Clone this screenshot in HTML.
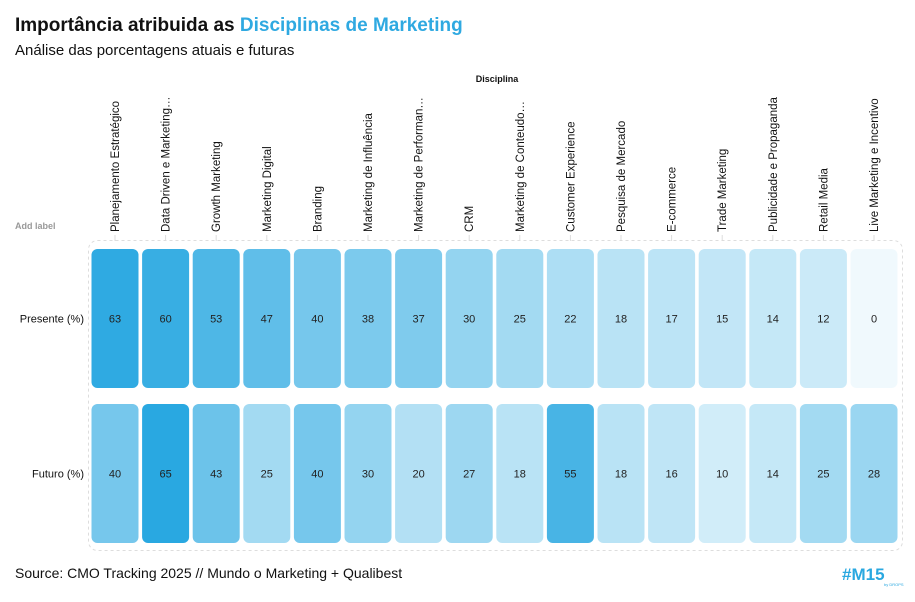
<!DOCTYPE html>
<html><head><meta charset="utf-8"><style>
body{margin:0;background:#fff;font-family:"Liberation Sans",sans-serif;}
svg text{font-family:"Liberation Sans",sans-serif;}
</style></head><body>
<svg width="915" height="597" viewBox="0 0 915 597" xmlns="http://www.w3.org/2000/svg">
<text x="15" y="31" font-size="19" font-weight="bold" fill="#111">Importância atribuida as <tspan fill="#2fa9e1">Disciplinas de Marketing</tspan></text>
<text x="15" y="55" font-size="15" fill="#111">Análise das porcentagens atuais e futuras</text>
<text x="497" y="82" font-size="9" font-weight="bold" text-anchor="middle" fill="#111">Disciplina</text>
<text x="15" y="229" font-size="9" font-weight="bold" fill="#999">Add label</text>
<rect x="88.5" y="240.5" width="814" height="310" rx="9" fill="none" stroke="#ddd" stroke-dasharray="3,3"/>
<g id="cols"></g>
<g id="cells"></g>
<text x="15" y="578" font-size="14" fill="#111">Source: CMO Tracking 2025 // Mundo o Marketing + Qualibest</text>
<text x="842" y="580" font-size="17" font-weight="900" fill="#2aa8e0">#M15</text>
<text x="884" y="586" font-size="4" fill="#2aa8e0">by DROPS</text>
</svg>
<script>
const categories=["Planejamento Estratégico","Data Driven e Marketing…","Growth Marketing","Marketing Digital","Branding","Marketing de Influência","Marketing de Performan…","CRM","Marketing de Conteudo…","Customer Experience","Pesquisa de Mercado","E-commerce","Trade Marketing","Publicidade e Propaganda","Retail Media","Live Marketing e Incentivo"];
const rowLabels=["Presente (%)","Futuro (%)"];
const presente=[63,60,53,47,40,38,37,30,25,22,18,17,15,14,12,0];
const futuro=[40,65,43,25,40,30,20,27,18,55,18,16,10,14,25,28];
const series=[presente,futuro];
const NS="http://www.w3.org/2000/svg";
const x0=91.5,pitch=50.6,cw=47;
const rowY=[249,404],rowH=139;
function xPos(i){return x0+i*pitch;}
function color(v){const t=Math.min(1,v/65);const a=[240,249,253],b=[41,168,225];
return "rgb("+a.map((c,k)=>Math.round(c+(b[k]-c)*t)).join(",")+")";}
const cols=document.getElementById('cols'),cells=document.getElementById('cells');
categories.forEach((c,i)=>{
 const cx=xPos(i)+cw/2;
 const t=document.createElementNS(NS,'text');
 
 
 t.setAttribute('transform','translate('+(cx+4)+',232) rotate(-90)');
 t.setAttribute('font-size','11.5');t.setAttribute('fill','#111');
 t.textContent=c;cols.appendChild(t);
 const l=document.createElementNS(NS,'line');
 
 
 l.setAttribute('x1',cx);l.setAttribute('x2',cx);l.setAttribute('y1',235);l.setAttribute('y2',241);
 l.setAttribute('stroke','#ddd');cols.appendChild(l);
});
rowLabels.forEach((r,j)=>{
 const t=document.createElementNS(NS,'text');
 
 
 t.setAttribute('x',84);t.setAttribute('y',rowY[j]+rowH/2+4);
 t.setAttribute('text-anchor','end');t.setAttribute('font-size','11');t.setAttribute('fill','#111');
 t.textContent=r;cells.appendChild(t);
 series[j].forEach((v,i)=>{
  const rc=document.createElementNS(NS,'rect');
  
  
  rc.setAttribute('x',xPos(i));rc.setAttribute('y',rowY[j]);
  rc.setAttribute('width',cw);rc.setAttribute('height',rowH);rc.setAttribute('rx',6);
  rc.setAttribute('fill',color(v));cells.appendChild(rc);
  const tv=document.createElementNS(NS,'text');
  
  
  tv.setAttribute('x',xPos(i)+cw/2);tv.setAttribute('y',rowY[j]+rowH/2+4);
  tv.setAttribute('text-anchor','middle');tv.setAttribute('font-size','11');tv.setAttribute('fill','#222');
  tv.textContent=v;cells.appendChild(tv);
 });
});
</script>
</body></html>
